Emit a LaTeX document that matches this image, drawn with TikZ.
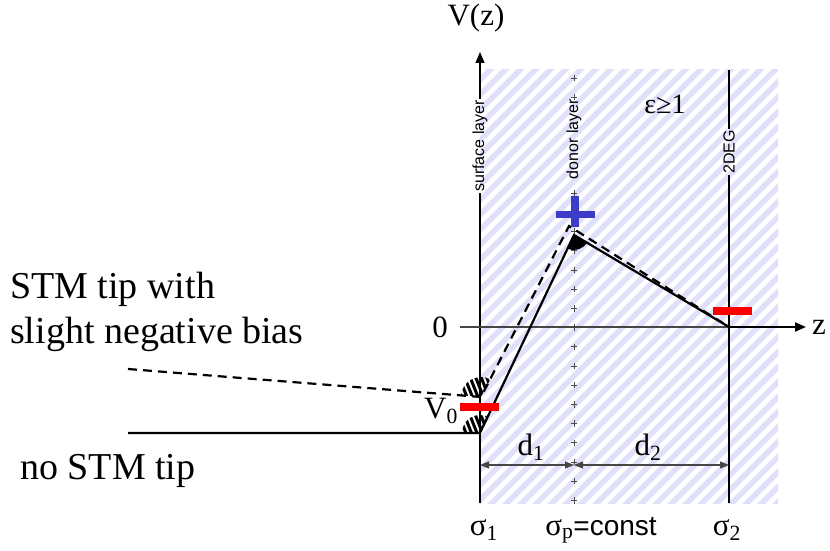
\documentclass[tikz,border=0pt]{standalone}
\usepackage{fontspec}
\setmainfont{Liberation Serif}
\setsansfont{Liberation Sans}
\usetikzlibrary{arrows.meta,calc}
\definecolor{stripecol}{RGB}{224,224,251}
\definecolor{axiscol}{RGB}{70,70,70}
\definecolor{plusblue}{RGB}{60,60,200}
\definecolor{barred}{RGB}{250,0,0}
\begin{document}
\begin{tikzpicture}[x=1pt,y=1pt,
  pot/.style={line width=2.2pt, black},
  potdash/.style={pot, dash pattern=on 9pt off 6pt},
  axis/.style={line width=1.2pt, axiscol},
  layerline/.style={line width=1.2pt, black},
  stripe/.style={line width=5.5pt, stripecol},
  hatchline/.style={line width=3pt, black},
  pluscross/.style={line width=0.7pt, black!70},
  big/.style={font=\fontsize{38}{45}\selectfont, inner sep=0pt},
  lab/.style={font=\fontsize{31}{36}\selectfont, inner sep=0pt},
  vert/.style={font=\sffamily\fontsize{16}{18}\selectfont, rotate=90, inner sep=1.5pt},
  bigtip/.style={-{Triangle[length=11pt,width=9pt]}},
  dimarrow/.style={line width=1.2pt, axiscol, {Triangle[length=9pt,width=7pt]}-{Triangle[length=9pt,width=7pt]}}
]
\useasboundingbox (0,0) rectangle (830,550);
% hatched dielectric region
\begin{scope}
  \clip (480,47) rectangle (778,480);
  \foreach \s in {20,35,...,800} \draw[stripe] (\s,40) -- ++(450,450);
\end{scope}
% donor plus signs
\foreach \k in {0,1,6,7,...,22}
  \draw[pluscross] (574,472-19.2*\k) +(-3.2,0) -- +(3.2,0) +(0,-3.2) -- +(0,3.2);
% coordinates
\coordinate (Vbot) at (480,47);
\coordinate (Vtop) at (480,498);
\coordinate (Dbot) at (729,47);
\coordinate (Dtop) at (729,480);
\coordinate (zstart) at (460,223);
\coordinate (c2deg) at (729,223);
\coordinate (zend) at (806,223);
\coordinate (sL) at (128,117);
\coordinate (s1) at (480,117);
\coordinate (peak) at (574,315);
\coordinate (dL) at (128,181);
\coordinate (d1) at (481,153);
\coordinate (dpeak) at (569,324);
\coordinate (dd) at (574,85);
\coordinate (ds) at (480,85);
\coordinate (de) at (729,85);
% vertical layer labels and lines
\node[vert] (sl) at (480,404) {surface layer};
\node[vert] (dl) at (574,411) {donor layer};
\node[vert] (deg) at (729,398) {2DEG};
\draw[layerline] (Vbot) -- (sl.west);
\draw[layerline, bigtip] (sl.east) -- (Vtop);
\draw[layerline] (Dbot) -- (deg.west);
\draw[layerline] (deg.east) -- (Dtop);
% z axis
\draw[axis] (zstart) -- (c2deg);
% potentials
\draw[pot] (sL) -- (s1) -- (peak) -- (c2deg);
\draw[pot, bigtip] (c2deg) -- (zend);
\draw[potdash] (dL) -- (d1) -- (dpeak) -- (c2deg);
% black wedge at peak
\fill (peak) -- ++(245.6:15) arc[start angle=245.6, end angle=329, radius=15] -- cycle;
% hatched sectors at surface
\begin{scope}
  \clip (s1) -- ++(64:18) arc[start angle=64, end angle=180, radius=18] -- cycle;
  \foreach \s in {-36,-30.5,...,36} \draw[hatchline] ($(s1)+(\s+12,-30)$) -- ($(s1)+(\s-12,30)$);
\end{scope}
\begin{scope}
  \clip (d1) -- ++(62:20) arc[start angle=62, end angle=175, radius=20] -- cycle;
  \foreach \s in {-36,-30.5,...,36} \draw[hatchline] ($(d1)+(\s+12,-30)$) -- ($(d1)+(\s-12,30)$);
\end{scope}
% charges
\fill[barred] (460,139) rectangle (499,147);
\fill[barred] (713,235) rectangle (752,243);
\fill[plusblue] (556,332) rectangle (595,339);
\fill[plusblue] (571,323) rectangle (579,354);
% dimension arrows
\draw[dimarrow] (ds) -- (dd);
\draw[dimarrow] (dd) -- (de);
% labels
\node[big, anchor=base west] (t1) at (10,252) {STM tip with};
\node[big, anchor=base west] (t2) at (10,207) {slight negative bias};
\node[big, anchor=base west] (t3) at (20,71) {no STM tip};
\node[lab] (vz) at (476,532) {V(z)};
\node[lab] (zero) at (440,223) {0};
\node[lab, anchor=west] (zl) at (812,223) {z};
\node[lab, font=\fontsize{28}{30}\selectfont] (eps) at (665,446) {ε≥1};
\node[lab, anchor=base] (v0) at (441,132) {V\textsubscript{0}};
\node[lab, anchor=base] (dlab1) at (531,95) {d\textsubscript{1}};
\node[lab, anchor=base] (dlab2) at (648,95) {d\textsubscript{2}};
\node[lab, anchor=base] (sg1) at (484,15) {σ\textsubscript{1}};
\node[lab, anchor=base] (sgp) at (601,15) {σ\textsubscript{p}\textsf{\fontsize{28}{30}\selectfont =const}};
\node[lab, anchor=base] (sg2) at (727,15) {σ\textsubscript{2}};
\end{tikzpicture}
\end{document}
